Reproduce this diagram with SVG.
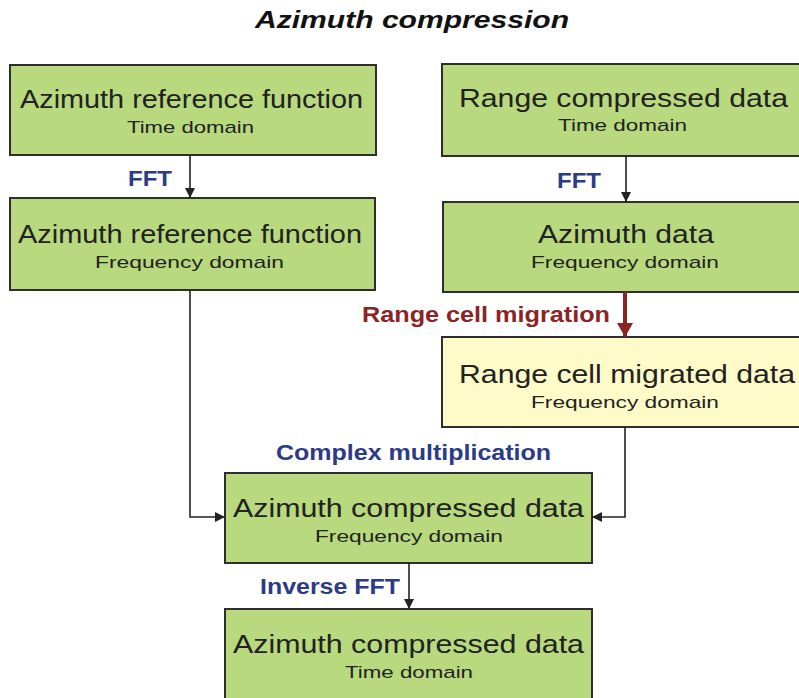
<svg xmlns="http://www.w3.org/2000/svg" width="799" height="698" viewBox="0 0 799 698">
<defs>
<style>
.box{fill:#b8d97e;stroke:#2e2e2e;stroke-width:2}
.ybox{fill:#fffbc8;stroke:#2e2e2e;stroke-width:2}
.main{font-family:"Liberation Sans",Arial,sans-serif;font-size:25px;fill:#222;text-anchor:middle}
.sub{font-family:"Liberation Sans",Arial,sans-serif;font-size:17px;fill:#222;text-anchor:middle}
.lbl{font-family:"Liberation Sans",Arial,sans-serif;font-size:22px;font-weight:bold;fill:#2b3b87}
.red{fill:#8b2424}
.conn{fill:none;stroke:#222;stroke-width:1.6}
.title{font-family:"Liberation Sans",Arial,sans-serif;font-size:24px;font-weight:bold;font-style:italic;fill:#111;text-anchor:middle}
</style>
<marker id="ah" markerWidth="10" markerHeight="10" refX="10" refY="5" orient="auto" markerUnits="userSpaceOnUse">
<path d="M0,0 L10,5 L0,10 Z" fill="#222"/>
</marker>
<marker id="ahr" markerWidth="16" markerHeight="16" refX="14" refY="8" orient="auto" markerUnits="userSpaceOnUse">
<path d="M0,0 L14,8 L0,16 Z" fill="#8b2424"/>
</marker>
</defs>
<rect width="799" height="698" fill="#fff"/>
<text class="title" x="412" y="28" textLength="314" lengthAdjust="spacingAndGlyphs">Azimuth compression</text>

<g id="n1"><rect class="box" x="10" y="65" width="366" height="90"/>
<text class="main" x="191.5" y="108" textLength="343" lengthAdjust="spacingAndGlyphs">Azimuth reference function</text>
<text class="sub" x="190.5" y="133" textLength="127" lengthAdjust="spacingAndGlyphs">Time domain</text></g>

<g id="n2"><rect class="box" x="10" y="198" width="365" height="92"/>
<text class="main" x="190" y="243" textLength="344" lengthAdjust="spacingAndGlyphs">Azimuth reference function</text>
<text class="sub" x="189.5" y="268" textLength="189" lengthAdjust="spacingAndGlyphs">Frequency domain</text></g>

<g id="n3"><rect class="box" x="442" y="64" width="370" height="92"/>
<text class="main" x="623.5" y="107" textLength="329" lengthAdjust="spacingAndGlyphs">Range compressed data</text>
<text class="sub" x="622.5" y="131" textLength="129" lengthAdjust="spacingAndGlyphs">Time domain</text></g>

<g id="n4"><rect class="box" x="443" y="202" width="370" height="90"/>
<text class="main" x="626" y="243" textLength="176" lengthAdjust="spacingAndGlyphs">Azimuth data</text>
<text class="sub" x="625" y="268" textLength="188" lengthAdjust="spacingAndGlyphs">Frequency domain</text></g>

<g id="n5"><rect class="ybox" x="442" y="337" width="370" height="90"/>
<text class="main" x="627" y="383" textLength="336" lengthAdjust="spacingAndGlyphs">Range cell migrated data</text>
<text class="sub" x="625" y="408" textLength="188" lengthAdjust="spacingAndGlyphs">Frequency domain</text></g>

<g id="n6"><rect class="box" x="225" y="473" width="367" height="90"/>
<text class="main" x="408.5" y="517" textLength="351" lengthAdjust="spacingAndGlyphs">Azimuth compressed data</text>
<text class="sub" x="409" y="542" textLength="188" lengthAdjust="spacingAndGlyphs">Frequency domain</text></g>

<g id="n7"><rect class="box" x="225" y="609" width="367" height="100"/>
<text class="main" x="408.5" y="653" textLength="351" lengthAdjust="spacingAndGlyphs">Azimuth compressed data</text>
<text class="sub" x="409" y="678" textLength="128" lengthAdjust="spacingAndGlyphs">Time domain</text></g>

<g id="connectors">
<path class="conn" d="M190,155 V198" marker-end="url(#ah)"/>
<path class="conn" d="M626,156 V202" marker-end="url(#ah)"/>
<path d="M625,292 V337" fill="none" stroke="#8b2424" stroke-width="4" marker-end="url(#ahr)"/>
<path class="conn" d="M190,290 V517 H225" marker-end="url(#ah)"/>
<path class="conn" d="M625,427 V517 H592" marker-end="url(#ah)"/>
<path class="conn" d="M409,563 V609" marker-end="url(#ah)"/>
<text class="lbl" x="128" y="186" textLength="44" lengthAdjust="spacingAndGlyphs">FFT</text>
<text class="lbl" x="557" y="188" textLength="44" lengthAdjust="spacingAndGlyphs">FFT</text>
<text class="lbl red" x="362" y="322" textLength="248" lengthAdjust="spacingAndGlyphs">Range cell migration</text>
<text class="lbl" x="276" y="460" textLength="275" lengthAdjust="spacingAndGlyphs">Complex multiplication</text>
<text class="lbl" x="260" y="594" textLength="140" lengthAdjust="spacingAndGlyphs">Inverse FFT</text>
</g>
</svg>
